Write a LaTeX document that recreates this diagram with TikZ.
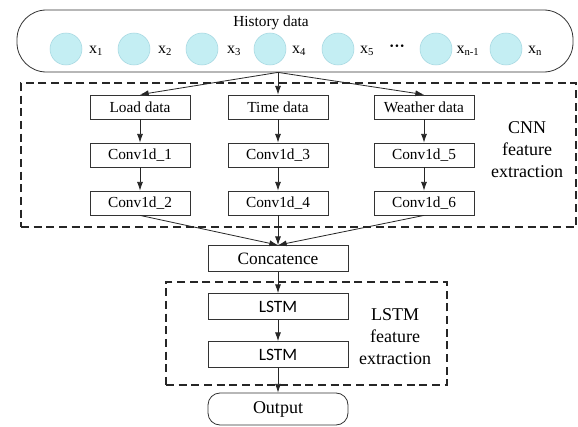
\documentclass[tikz,border=0pt]{standalone}
\usepackage{fontspec}
\setmainfont{LiberationSerif}[Extension=.ttf, UprightFont=*-Regular, BoldFont=*-Bold]
\newfontfamily\timesfont{LiberationSerif}[Extension=.ttf, UprightFont=*-Regular, BoldFont=*-Bold]
\newfontfamily\lstmfont{Carlito}
\usetikzlibrary{arrows.meta, positioning}

\definecolor{sampfill}{RGB}{196,238,243}
\definecolor{sampline}{RGB}{165,215,225}

\tikzset{
    box/.style={draw=black!80, line width=0.6pt, minimum width=75pt, minimum height=18pt, inner sep=0pt, font=\timesfont\fontsize{11.5}{13}\selectfont},
    widebox/.style={box, minimum width=105pt, minimum height=19.5pt, font=\timesfont\fontsize{13}{15}\selectfont},
    groupbox/.style={draw=black!85, line width=0.9pt, dash pattern=on 6pt off 3.5pt, inner sep=0pt},
    sample/.style={circle, fill=sampfill, draw=sampline, line width=0.4pt, minimum size=24pt, inner sep=0pt},
    xlabel/.style={inner sep=0pt, font=\timesfont\fontsize{12}{14}\selectfont},
    grouplabel/.style={align=center, inner sep=0pt, font=\timesfont\fontsize{13.5}{16.5}\selectfont},
    flow/.style={-{Latex[length=6.5pt,width=4.5pt]}, line width=0.6pt, black!85}
}

\begin{document}
\begin{tikzpicture}[x=0.75pt, y=-0.75pt]
    \fill[white] (0,0) rectangle (578,427);
    \useasboundingbox (0,0) rectangle (578,427);

    % feature extraction groups
    \node[groupbox, minimum width=416.25pt, minimum height=108pt] (cnn) at (298.5,155) {};
    \node[groupbox, minimum width=210.75pt, minimum height=77.25pt] (lstmgroup) at (306.5,333.5) {};
    \node[grouplabel] (cnnlabel) at (527,150) {CNN\\feature\\extraction};
    \node[grouplabel] (lstmlabel) at (395,337) {LSTM\\feature\\extraction};

    % history data
    \node[draw=black!80, line width=0.6pt, rounded corners=22pt, minimum width=417pt, minimum height=46.5pt] (hist) at (295,41) {};
    \node[xlabel, font=\timesfont\fontsize{11.5}{13}\selectfont] (histtitle) at (271,23) {History data};
    \foreach \i/\cx in {1/66, 2/134, 3/202, 4/270, 5/338, 6/436, 7/506}
        \node[sample] (s\i) at (\cx,49) {};
    \node[xlabel] (x1) at (96,51) {x\textsubscript{1}};
    \node[xlabel] (x2) at (165,51) {x\textsubscript{2}};
    \node[xlabel] (x3) at (234,51) {x\textsubscript{3}};
    \node[xlabel] (x4) at (299,51) {x\textsubscript{4}};
    \node[xlabel] (x5) at (367,51) {x\textsubscript{5}};
    \node[xlabel] (dots) at (397,48) {\textbf{\textperiodcentered\textperiodcentered\textperiodcentered}};
    \node[xlabel] (xn1) at (468,51) {x\textsubscript{n-1}};
    \node[xlabel] (xn) at (535,51) {x\textsubscript{n}};

    % CNN branches
    \node[box] (load) at (140,107) {Load data};
    \node[box] (time) at (278,107) {Time data};
    \node[box] (weather) at (424,107) {Weather data};
    \node[box] (conv1) at (140,155) {Conv1d\_1};
    \node[box] (conv3) at (278,155) {Conv1d\_3};
    \node[box] (conv5) at (424,155) {Conv1d\_5};
    \node[box] (conv2) at (140,203) {Conv1d\_2};
    \node[box] (conv4) at (278,203) {Conv1d\_4};
    \node[box] (conv6) at (424,203) {Conv1d\_6};

    % merge and LSTM
    \node[widebox] (concat) at (278,258.5) {Concatence};
    \node[widebox, font=\lstmfont\fontsize{13}{15}\selectfont] (lstm1) at (278,306.5) {LSTM};
    \node[widebox, font=\lstmfont\fontsize{13}{15}\selectfont] (lstm2) at (278,354.5) {LSTM};
    \node[widebox, rounded corners=9pt, minimum height=24pt, font=\timesfont\fontsize{13.5}{15}\selectfont] (output) at (278,409) {Output};

    % connectors
    \coordinate (fork) at (time.north |- hist.south);
    \draw[flow] (fork) -- (load.north);
    \draw[flow] (fork) -- (time.north);
    \draw[flow] (fork) -- (weather.north);
    \draw[flow] (load) -- (conv1);
    \draw[flow] (conv1) -- (conv2);
    \draw[flow] (time) -- (conv3);
    \draw[flow] (conv3) -- (conv4);
    \draw[flow] (weather) -- (conv5);
    \draw[flow] (conv5) -- (conv6);
    \draw[flow] (conv2.south) -- (concat.north);
    \draw[flow] (conv4.south) -- (concat.north);
    \draw[flow] (conv6.south) -- (concat.north);
    \draw[flow] (concat) -- (lstm1);
    \draw[flow] (lstm1) -- (lstm2);
    \draw[flow] (lstm2) -- (output);
\end{tikzpicture}
\end{document}
